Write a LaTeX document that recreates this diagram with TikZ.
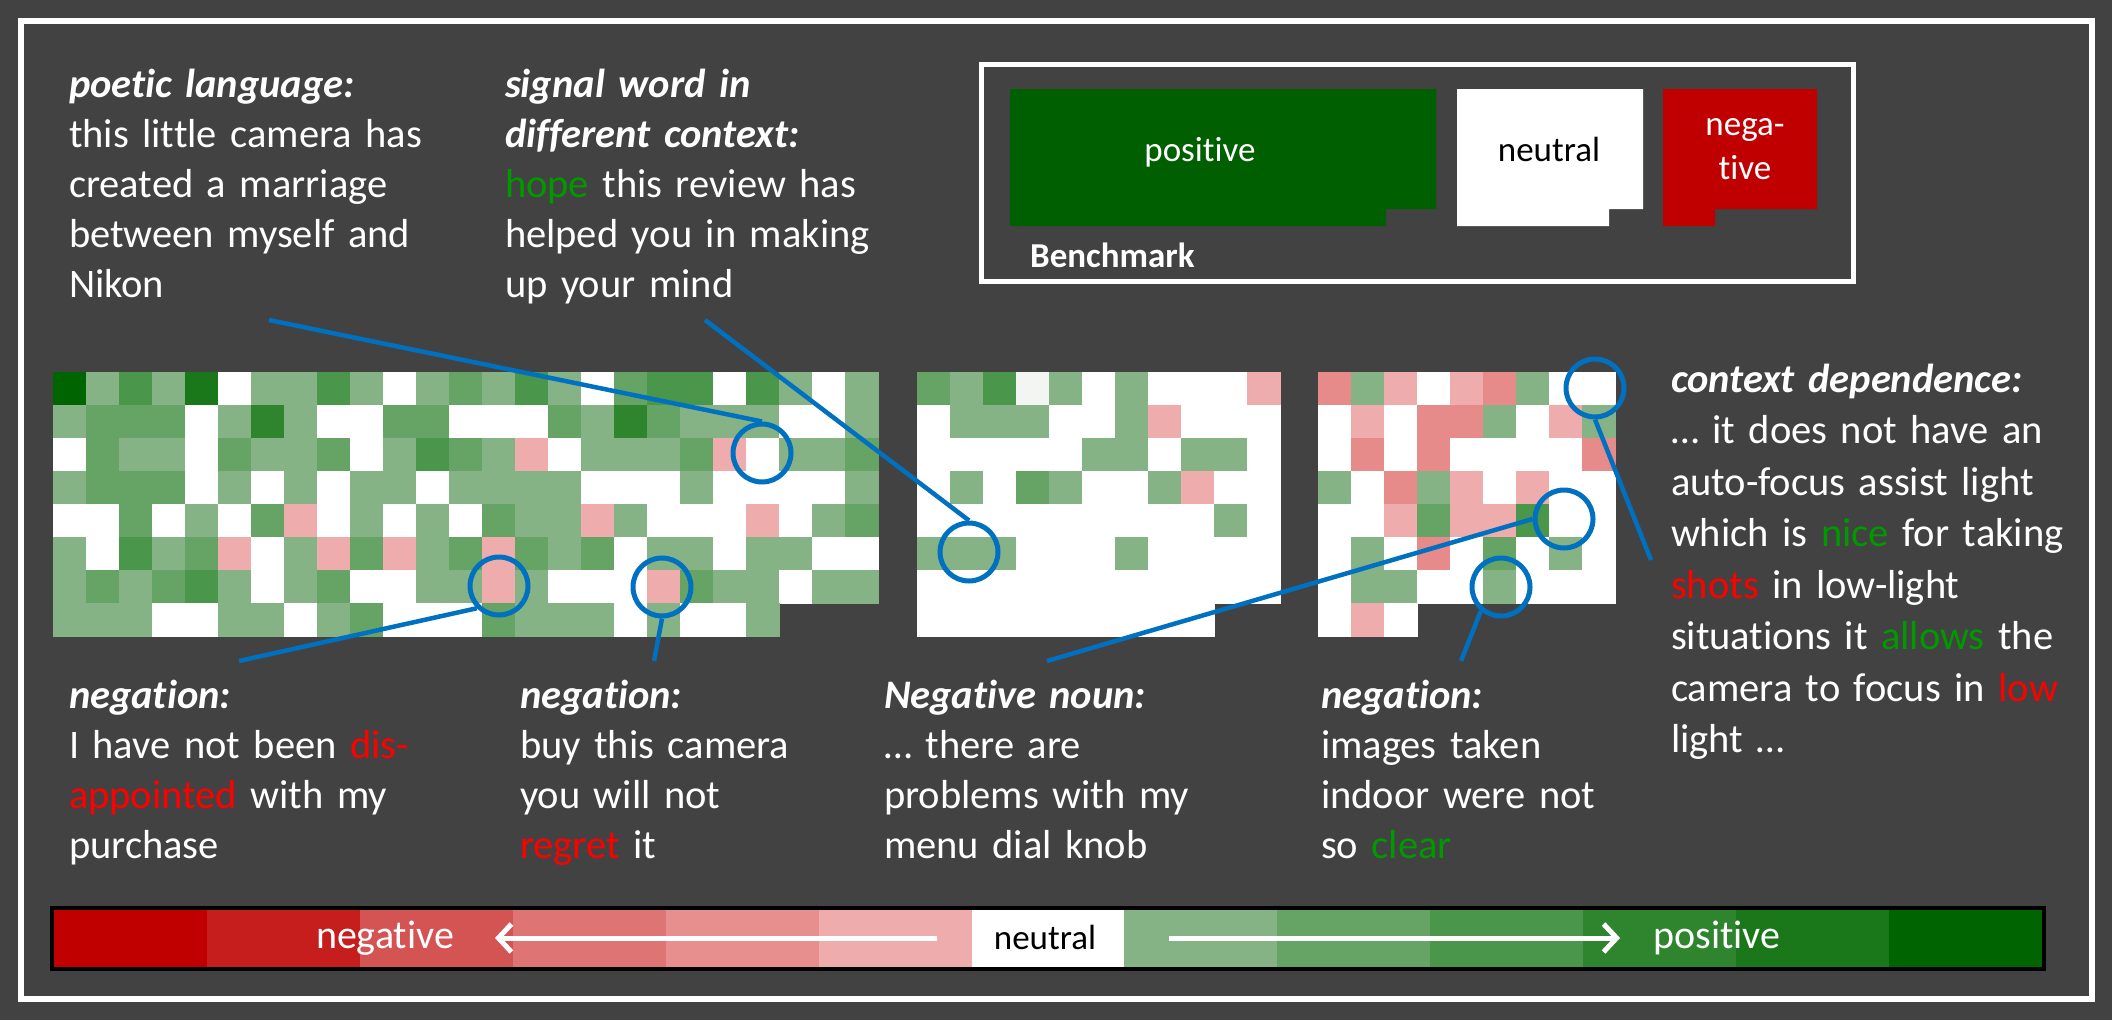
\documentclass[tikz,border=0pt]{standalone}
\usepackage{fontspec}
\setmainfont{Carlito}[Ligatures={NoCommon,NoContextual,NoRequired}, Contextuals=NoAlternate]
\usetikzlibrary{arrows.meta}
\definecolor{bg}{HTML}{424242}
\definecolor{lensblue}{HTML}{0070C0}
\definecolor{wordgreen}{HTML}{009900}
\definecolor{wordred}{HTML}{FF0000}
\definecolor{hm0}{HTML}{FFFFFF}
\definecolor{hm1}{HTML}{86B386}
\definecolor{hm2}{HTML}{65A465}
\definecolor{hm3}{HTML}{4A964A}
\definecolor{hm4}{HTML}{2E852E}
\definecolor{hm5}{HTML}{1A771A}
\definecolor{hm6}{HTML}{006400}
\definecolor{hm7}{HTML}{EEACAC}
\definecolor{hm8}{HTML}{E68A8A}
\definecolor{hm9}{HTML}{F3F5F3}
\definecolor{cb0}{HTML}{C00000}
\definecolor{cb1}{HTML}{C61D1D}
\definecolor{cb2}{HTML}{D45353}
\definecolor{cb3}{HTML}{DF7474}
\definecolor{cb4}{HTML}{E78E8E}
\definecolor{cb5}{HTML}{EFACAC}
\definecolor{cb6}{HTML}{FFFFFF}
\definecolor{cb7}{HTML}{86B386}
\definecolor{cb8}{HTML}{65A465}
\definecolor{cb9}{HTML}{4A964A}
\definecolor{cb10}{HTML}{2E852E}
\definecolor{cb11}{HTML}{1A771A}
\definecolor{cb12}{HTML}{006400}
\definecolor{legendgreen}{HTML}{005F00}
\newcommand\mkhead[1]{\textbf{\textit{#1}}}
\newcommand\posw[1]{\textcolor{wordgreen}{#1}}
\newcommand\negw[1]{\textcolor{wordred}{#1}}
\tikzset{
  txt/.style={text=white, anchor=base west, inner sep=0pt, outer sep=0pt, align=left, text width=640pt, font=\fontsize{40.5}{50}\selectfont},
  lens/.style={circle, draw=lensblue, line width=5pt, minimum size=58pt, inner sep=0pt},
  link/.style={draw=lensblue, line width=4.5pt},
  legtxt/.style={inner sep=0pt, anchor=base, font=\fontsize{35}{44}\selectfont},
  bartxt/.style={inner sep=0pt, anchor=base, font=\fontsize{40}{48}\selectfont},
  bararrow/.style={white, line width=5pt, -{Straight Barb[length=13pt,width=28pt]}},
}
\begin{document}
\begin{tikzpicture}[x=1pt,y=-1pt]
\useasboundingbox (0,0) rectangle (2112,1020);
\fill[bg] (0,0) rectangle (2112,1020);
\draw[white, line width=6pt] (20.5,20.5) rectangle (2091.5,999);

% ---------- heatmaps ----------
\foreach \rowlist [count=\r from 0] in {
 {6,1,3,1,5,0,1,1,3,1,0,1,2,1,3,1,0,2,3,3,0,3,1,0,1},
 {1,2,2,2,0,1,4,1,0,0,2,2,0,0,0,2,1,4,2,1,1,1,0,0,1},
 {0,2,1,1,0,2,1,1,2,0,1,3,2,1,7,0,1,1,1,2,7,0,1,1,2},
 {1,2,2,2,0,1,0,1,0,1,1,0,1,1,1,1,0,0,0,1,0,0,0,0,1},
 {0,0,2,0,1,0,2,7,0,1,0,1,0,2,1,1,7,1,0,0,0,7,0,1,2},
 {1,0,3,1,2,7,0,1,7,2,7,1,2,7,2,1,2,0,1,1,0,1,1,0,0},
 {1,2,1,2,3,1,0,1,2,0,0,1,1,7,1,0,0,0,7,2,1,1,0,1,1},
 {1,1,1,0,0,1,1,0,1,2,0,0,0,2,1,1,1,0,1,0,0,1}}{
  \foreach \v [count=\c from 0] in \rowlist {
    \fill[hm\v] ({53+33*\c},{372+33*\r}) rectangle ++(33.5,33.5);
  }
}
\foreach \rowlist [count=\r from 0] in {
 {2,1,3,9,1,0,1,0,0,0,7},
 {0,1,1,1,0,0,1,7,0,0,0},
 {0,0,0,0,0,1,1,0,1,1,0},
 {0,1,0,2,1,0,0,1,7,0,0},
 {0,0,0,0,0,0,0,0,0,1,0},
 {1,1,1,0,0,0,1,0,0,0,0},
 {0,0,0,0,0,0,0,0,0,0,0},
 {0,0,0,0,0,0,0,0,0}}{
  \foreach \v [count=\c from 0] in \rowlist {
    \fill[hm\v] ({917+33*\c},{372+33*\r}) rectangle ++(33.5,33.5);
  }
}
\foreach \rowlist [count=\r from 0] in {
 {8,1,7,0,7,8,1,0,0},
 {0,7,0,8,8,1,0,7,1},
 {0,8,0,8,0,0,0,0,8},
 {1,0,8,1,7,0,7,0,0},
 {0,0,7,2,7,7,3,0,0},
 {0,1,0,8,0,2,0,1,0},
 {0,1,1,0,0,1,0,0,0},
 {0,7,0}}{
  \foreach \v [count=\c from 0] in \rowlist {
    \fill[hm\v] ({1318+33*\c},{372+33*\r}) rectangle ++(33.5,33.5);
  }
}

% ---------- legend ----------
\draw[white, line width=5pt] (981.5,64.5) rectangle (1853,281);
\fill[legendgreen] (1010,89) -- (1436,89) -- (1436,209) -- (1386,209) -- (1386,226) -- (1010,226) -- cycle;
\fill[white] (1457,89) -- (1643,89) -- (1643,209) -- (1609,209) -- (1609,226) -- (1457,226) -- cycle;
\fill[cb0] (1663,89) -- (1817,89) -- (1817,209) -- (1715,209) -- (1715,226) -- (1663,226) -- cycle;
\node[legtxt, text=white] (lpos) at (1200,161) {positive};
\node[legtxt, text=black] (lneu) at (1549,161) {neutral};
\node[legtxt, text=white, text width=120pt, align=center] (lneg) at (1745,135) {nega-\\tive};
\node[legtxt, text=white, anchor=base west, font=\fontsize{35}{44}\selectfont\bfseries] (lbench) at (1030,267) {Benchmark};

% ---------- texts ----------
\node[txt] (t1) at (69,97) {\mkhead{poetic language:}\\this little camera has\\created a marriage\\between myself and\\Nikon};
\node[txt] (t2) at (505,97) {\mkhead{signal word in}\\\mkhead{different context:}\\\posw{hope} this review has\\helped you in making\\up your mind};
\node[txt, font=\fontsize{40.5}{51.5}\selectfont] (t3) at (1671,392) {\mkhead{context dependence:}\\… it does not have an\\auto-focus assist light\\which is \posw{nice} for taking\\\negw{shots} in low-light\\situations it \posw{allows} the\\camera to focus in \negw{low}\\light …};
\node[txt] (t4) at (69,708) {\mkhead{negation:}\\I have not been \negw{dis-}\\\negw{appointed} with my\\purchase};
\node[txt] (t5) at (520,708) {\mkhead{negation:}\\buy this camera\\you will not\\\negw{regret} it};
\node[txt] (t6) at (884,708) {\mkhead{Negative noun:}\\… there are\\problems with my\\menu dial knob};
\node[txt] (t7) at (1321,708) {\mkhead{negation:}\\images taken\\indoor were not\\so \posw{clear}};

% ---------- connectors and lenses ----------
\coordinate (pA) at (269,320);
\coordinate (pD) at (705,320);
\coordinate (pB) at (239,661);
\coordinate (pC) at (654,661);
\coordinate (pE) at (1047,661);
\coordinate (pF) at (1461,661);
\coordinate (pG) at (1651,560);
\node[lens] (A) at (762,453) {};
\node[lens] (B) at (499,586) {};
\node[lens] (C) at (662,587) {};
\node[lens] (D) at (969,552) {};
\node[lens] (E) at (1564,519) {};
\node[lens] (F) at (1501,587) {};
\node[lens] (G) at (1595,388) {};
\draw[link] (pA) -- (A.north);
\draw[link] (pD) -- (D.north);
\draw[link] (pB) -- (B.225);
\draw[link] (pC) -- (C.south);
\draw[link] (pE) -- (E.west);
\draw[link] (pF) -- (F.230);
\draw[link] (pG) -- (G.south);

% ---------- colour bar ----------
\fill[black] (50,906) rectangle (2046,971);
\foreach \i in {0,...,12} {
  \fill[cb\i] ({54+152.923*\i},910) rectangle ++(153.3,57);
}
\fill[black] (2042,906) rectangle (2046,971);
\node[bartxt, text=white] (bneg) at (385,948) {negative};
\node[bartxt, text=black, font=\fontsize{35}{42}\selectfont] (bneu) at (1045,949) {neutral};
\node[bartxt, text=white] (bpos) at (1717,948) {positive};
\coordinate (la1) at (937,938);
\coordinate (la2) at (495,938);
\coordinate (ra1) at (1169,938);
\coordinate (ra2) at (1620,938);
\draw[bararrow] (la1) -- (la2);
\draw[bararrow] (ra1) -- (ra2);
\end{tikzpicture}
\end{document}
